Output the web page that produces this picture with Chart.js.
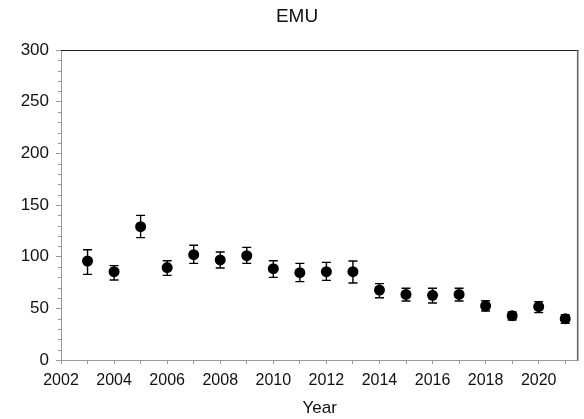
<!DOCTYPE html>
<html>
<head>
<meta charset="utf-8">
<script src="https://cdn.jsdelivr.net/npm/chart.js@4/dist/chart.umd.min.js"></script>
<style>
  html, body { margin: 0; padding: 0; background: #fff; }
  #wrap { width: 584px; height: 419px; }
</style>
</head>
<body>
<div id="wrap"><canvas id="c" width="584" height="419"></canvas></div>
<script>
// Yearly EMU index with lower/upper error limits
const years = [2003, 2004, 2005, 2006, 2007, 2008, 2009, 2010, 2011, 2012, 2013, 2014, 2015, 2016, 2017, 2018, 2019, 2020, 2021];
const means = [95.8, 85.5, 129, 89.4, 101.9, 96.8, 101, 88.4, 84.5, 85.5, 85.5, 67.7, 63.5, 62.6, 63.5, 52.3, 42.9, 51.6, 40];
const lower = [82.9, 77.4, 118.4, 81.9, 93.5, 89, 93.5, 80, 75.8, 77.1, 74.5, 60.3, 57.1, 55.2, 57.1, 47.4, 38.7, 45.8, 35.5];
const upper = [106.7, 91.3, 140, 96.1, 111, 104.5, 109, 96.1, 93.5, 94.5, 95.8, 73.9, 69.4, 69.4, 69.4, 57.4, 46.5, 56.5, 43.9];
const chartTitle = 'EMU';

const FONT = 'Liberation Sans, Arial, sans-serif';
const AXIS_GREY = '#9a9a9a';

// Error bars with caps, drawn under the markers
const errorBars = {
  id: 'errorBars',
  beforeDatasetsDraw(chart) {
    const { ctx, scales: { x, y } } = chart;
    ctx.save();
    ctx.strokeStyle = '#000';
    ctx.lineWidth = 1.4;
    years.forEach((yr, i) => {
      const px = x.getPixelForValue(yr);
      const pLo = y.getPixelForValue(lower[i]);
      const pHi = y.getPixelForValue(upper[i]);
      ctx.beginPath();
      ctx.moveTo(px, pLo); ctx.lineTo(px, pHi);
      ctx.moveTo(px - 4.5, pLo); ctx.lineTo(px + 4.5, pLo);
      ctx.moveTo(px - 4.5, pHi); ctx.lineTo(px + 4.5, pHi);
      ctx.stroke();
    });
    ctx.restore();
  }
};

// Frame on the top and right, short minor ticks on the value axis, and the heading
const frame = {
  id: 'frame',
  afterDraw(chart) {
    const { ctx, chartArea: a, scales: { y } } = chart;
    ctx.save();
    ctx.strokeStyle = '#222';
    ctx.lineWidth = 1.2;
    ctx.beginPath();
    ctx.moveTo(a.left, a.top + 0.5); ctx.lineTo(a.right, a.top + 0.5);
    ctx.stroke();
    ctx.strokeStyle = '#666';
    ctx.lineWidth = 1.6;
    ctx.beginPath();
    ctx.moveTo(a.right - 0.8, a.top); ctx.lineTo(a.right - 0.8, a.bottom);
    ctx.stroke();
    ctx.strokeStyle = AXIS_GREY;
    ctx.lineWidth = 1;
    ctx.beginPath();
    for (let v = 10; v < 300; v += 10) {
      if (v % 50 === 0) continue;
      const py = Math.round(y.getPixelForValue(v)) + 0.5;
      ctx.moveTo(a.left - 3, py); ctx.lineTo(a.left, py);
    }
    ctx.stroke();
    ctx.fillStyle = '#111';
    ctx.font = '19px ' + FONT;
    ctx.textAlign = 'center';
    ctx.textBaseline = 'middle';
    ctx.fillText(chartTitle, 297, 17);
    ctx.restore();
  }
};

new Chart(document.getElementById('c'), {
  type: 'scatter',
  data: {
    datasets: [{
      label: chartTitle,
      data: years.map((yr, i) => ({ x: yr, y: means[i] })),
      backgroundColor: '#000',
      borderColor: '#000',
      pointRadius: 5.5,
      pointHoverRadius: 5.5,
      borderWidth: 0
    }]
  },
  options: {
    responsive: false,
    animation: false,
    devicePixelRatio: 1,
    layout: { padding: { left: 0, right: 2, top: 50, bottom: 0 } },
    plugins: {
      legend: { display: false },
      tooltip: { enabled: false },
      title: { display: false }
    },
    scales: {
      x: {
        type: 'linear',
        min: 2002,
        max: 2021.5,
        afterFit(scale) { scale.height = 59; },
        border: { display: true, color: AXIS_GREY, width: 1 },
        grid: { display: true, drawOnChartArea: false, drawTicks: true, tickLength: 4, color: AXIS_GREY },
        ticks: {
          stepSize: 1,
          includeBounds: false,
          autoSkip: false,
          maxRotation: 0,
          padding: 7,
          color: '#111',
          font: { family: FONT, size: 16 },
          callback: (v) => (v % 2 === 0 ? String(v) : '')
        },
        title: {
          display: true,
          text: 'Year',
          color: '#111',
          font: { family: FONT, size: 17 },
          padding: { top: 0, bottom: 0 }
        }
      },
      y: {
        min: 0,
        max: 300,
        afterFit(scale) { scale.width = 61; },
        border: { display: true, color: AXIS_GREY, width: 1 },
        grid: {
          display: true,
          drawOnChartArea: false,
          drawTicks: true,
          tickLength: 5,
          color: AXIS_GREY,
          tickColor: (c) => (c.tick && c.tick.value % 50 === 0 ? AXIS_GREY : 'rgba(0,0,0,0)')
        },
        ticks: {
          stepSize: 10,
          autoSkip: false,
          padding: 7,
          color: '#111',
          font: { family: FONT, size: 17 },
          callback: (v) => (v % 50 === 0 ? String(v) : '')
        }
      }
    }
  },
  plugins: [errorBars, frame]
});
</script>
</body>
</html>
